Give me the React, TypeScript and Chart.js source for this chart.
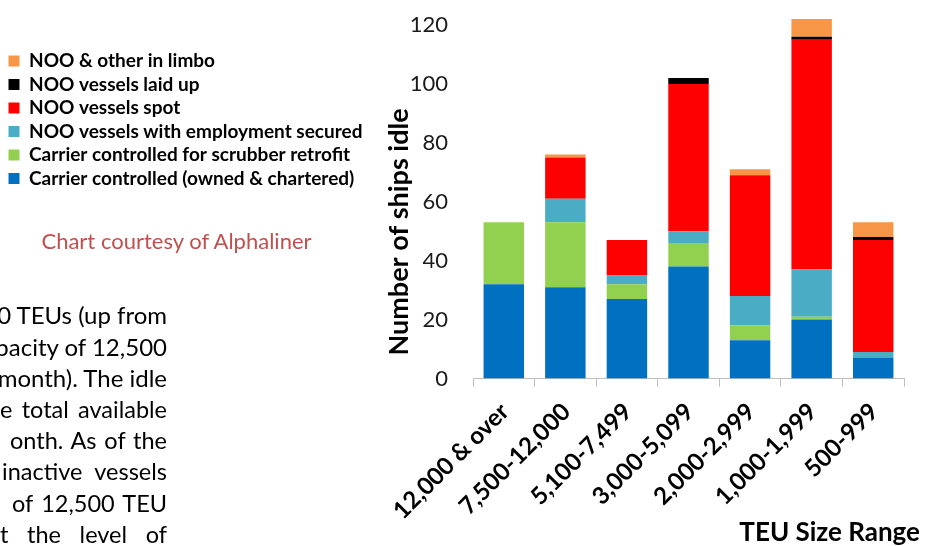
import React, { useEffect, useRef } from 'react';
import { Chart, registerables } from 'chart.js';

Chart.register(...registerables);

const FONT = 'Lato, "Open Sans", sans-serif';

const categories = ['12,000 & over', '7,500-12,000', '5,100-7,499', '3,000-5,099', '2,000-2,999', '1,000-1,999', '500-999'];

const carrierOwned = [32, 31, 27, 38, 13, 20, 7];
const carrierScrubber = [21, 22, 5, 8, 5, 1, 0];
const nooEmployment = [0, 8, 3, 4, 10, 16, 2];
const nooSpot = [0, 14, 12, 50, 41, 78, 38];
const nooLaidUp = [0, 0, 0, 2, 0, 1, 1];
const nooLimbo = [0, 1, 0, 0, 2, 6, 5];

const seriesNames = [
  'Carrier controlled (owned & chartered)',
  'Carrier controlled for scrubber retrofit',
  'NOO vessels with employment secured',
  'NOO vessels spot',
  'NOO vessels laid up',
  'NOO & other in limbo',
];
const seriesColors = ['#0070C0', '#92D050', '#4BACC6', '#FF0000', '#000000', '#F79646'];
const seriesValues = [carrierOwned, carrierScrubber, nooEmployment, nooSpot, nooLaidUp, nooLimbo];

const yMin = 0;
const yMax = 124;
const yStep = 20;

const yTitle = 'Number of ships idle';
const xTitle = 'TEU Size Range';
const courtesy = 'Chart courtesy of Alphaliner';

const rightLines = ['0 TEUs (up from', 'pacity of 12,500', 'month). The idle'];
const justifiedLines = ['e total available', 'onth. As of the', 'inactive vessels', 'of 12,500 TEU', 't the level of'];
const justifiedStarts = [0, 10, 2, 12, 0];

export default function App() {
  const ref = useRef<HTMLCanvasElement>(null);

  useEffect(() => {
    const canvas = ref.current;
    if (!canvas) return;
    const chart = new Chart(canvas, {
      type: 'bar',
      data: {
        labels: categories,
        datasets: seriesNames.map((name, i) => ({
          label: name,
          data: seriesValues[i],
          backgroundColor: seriesColors[i],
          borderWidth: 0,
          barPercentage: 0.657,
          categoryPercentage: 1,
        })),
      },
      options: {
        animation: false,
        responsive: false,
        maintainAspectRatio: false,
        layout: { padding: { left: 4, top: 12, right: 5, bottom: 0 } },
        plugins: {
          tooltip: { enabled: false },
          legend: {
            position: 'left',
            align: 'start',
            reverse: true,
            maxWidth: 368,
            title: { display: true, text: '', font: { size: 10, lineHeight: 1 }, padding: { top: 25, bottom: 0 } },
            labels: {
              boxWidth: 11,
              boxHeight: 11,
              padding: 4.5,
              color: '#000',
              font: { family: FONT, size: 19, weight: 'bold' },
            },
          },
          title: {
            display: true,
            text: xTitle,
            position: 'bottom',
            align: 'end',
            color: '#000',
            font: { family: FONT, size: 26, weight: 'bold', lineHeight: 1 },
            padding: 0,
          },
        },
        scales: {
          x: {
            stacked: true,
            grid: { display: true, drawOnChartArea: false, drawTicks: true, tickLength: 8, color: '#bfbfbf', offset: true },
            border: { display: true, color: '#bfbfbf', width: 1 },
            ticks: {
              autoSkip: false,
              minRotation: 45,
              maxRotation: 45,
              padding: 11,
              labelOffset: 1,
              color: '#000',
              font: { family: FONT, size: 24, weight: 'bold' },
            },
            afterFit: (s: any) => { s.height = 141.5; },
          },
          y: {
            stacked: true,
            min: yMin,
            max: yMax,
            grid: { display: false, drawTicks: true, tickLength: 25 },
            border: { display: false },
            ticks: {
              stepSize: yStep,
              includeBounds: false,
              padding: 0,
              color: '#1a1a1a',
              font: { family: FONT, size: 22 },
            },
            title: {
              display: true,
              text: yTitle + '\u00a0'.repeat(11),
              color: '#000',
              font: { family: FONT, size: 27, weight: 'bold' },
              padding: { top: 10.8, bottom: 0 },
            },
            afterFit: (s: any) => { s.width = 101; },
          },
          y2: {
            position: 'right',
            display: true,
            grid: { display: false, drawTicks: false },
            border: { display: false },
            ticks: { display: false },
            afterFit: (s: any) => { s.width = 16; },
          },
        },
      } as any,
    });
    return () => chart.destroy();
  }, []);

  return (
    <div style={{ position: 'fixed', left: 0, top: 0, width: 925, height: 546, overflow: 'hidden', background: '#fff' }}>
      <canvas ref={ref} width={925} height={546} style={{ position: 'absolute', left: 0, top: 0, width: 925, height: 546 }} />
      <div style={{ position: 'absolute', left: 0, top: 227, width: 353, textAlign: 'center', lineHeight: '28px', fontFamily: FONT, fontSize: 22, color: '#C0504D', whiteSpace: 'nowrap' }}>
        {courtesy}
      </div>
      {rightLines.map((t, i) => (
        <div key={'r' + i} style={{ position: 'absolute', left: 0, top: 299.3 + i * 31.4, width: 167, height: 31.4, overflow: 'hidden', display: 'flex', justifyContent: 'flex-end', lineHeight: '31.4px', fontFamily: FONT, fontSize: 24, color: '#000' }}>
          <span style={{ whiteSpace: 'nowrap', flexShrink: 0 }}>{t}</span>
        </div>
      ))}
      {justifiedLines.map((t, i) => (
        <div key={'j' + i} style={{ position: 'absolute', left: justifiedStarts[i], top: 299.3 + (i + 3) * 31.4, width: 167 - justifiedStarts[i], height: 31.4, overflow: 'hidden', textAlign: 'justify', textAlignLast: 'justify', lineHeight: '31.4px', fontFamily: FONT, fontSize: 23.5, color: '#000' } as any}>
          {t}
        </div>
      ))}
    </div>
  );
}
